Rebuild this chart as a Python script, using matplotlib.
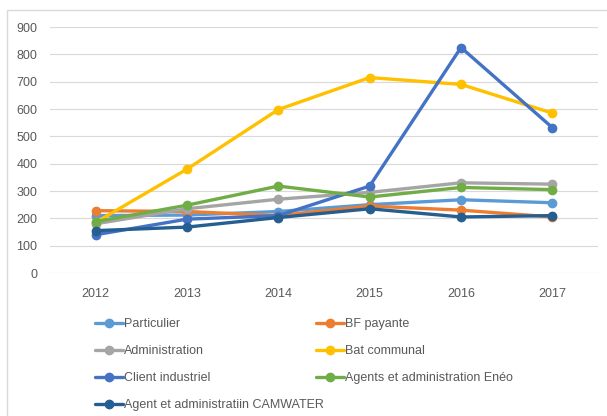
import matplotlib.pyplot as plt
from matplotlib.patches import Rectangle

# Data
years = ['2012', '2013', '2014', '2015', '2016', '2017']
particulier = [210, 212, 225, 250, 268, 257]
bf_payante = [228, 225, 210, 245, 230, 205]
administration = [180, 235, 270, 295, 330, 325]
bat_communal = [185, 380, 598, 715, 690, 585]
client_industriel = [140, 197, 210, 318, 825, 532]
agents_eneo = [188, 248, 318, 278, 313, 305]
agent_camwater = [155, 168, 203, 235, 205, 210]

series = [
    ('Particulier', particulier, '#5B9BD5'),
    ('BF payante', bf_payante, '#ED7D31'),
    ('Administration', administration, '#A5A5A5'),
    ('Bat communal', bat_communal, '#FFC000'),
    ('Client industriel', client_industriel, '#4472C4'),
    ('Agents et administration Enéo', agents_eneo, '#70AD47'),
    ('Agent et administratiin CAMWATER', agent_camwater, '#255E91'),
]

plt.rcParams['font.family'] = ['Liberation Sans', 'DejaVu Sans']
text_col = '#595959'

fig = plt.figure(figsize=(6.07, 4.16), dpi=100)
ax = fig.add_axes([50 / 607, 1 - 273 / 416, 548 / 607, 246 / 416])

x = range(len(years))
handles = {}
for name, vals, col in series:
    h, = ax.plot(x, vals, color=col, lw=2.4, marker='o', ms=6,
                 solid_capstyle='round', label=name)
    handles[name] = h

ax.set_xlim(-0.5, len(years) - 0.5)
ax.set_ylim(0, 900)
ax.set_yticks(range(0, 1000, 100))
ax.set_xticks(list(x))
ax.set_xticklabels(years)
ax.grid(axis='y', color='#D9D9D9', lw=0.8)
ax.set_axisbelow(True)
for s in ax.spines.values():
    s.set_visible(False)
ax.tick_params(length=0, labelsize=9, colors=text_col)
ax.tick_params(axis='x', pad=11)
ax.tick_params(axis='y', pad=9)

# chart area border
fig.patches.append(Rectangle((7 / 607, -0.05), 1.0, 1.05 - 10 / 416,
                             transform=fig.transFigure, fill=False,
                             edgecolor='#D9D9D9', lw=1.0))

names = [s[0] for s in series]
left_col = [names[0], names[2], names[4], names[6]]
right_col = [names[1], names[3], names[5]]

leg_kw = dict(frameon=False, fontsize=9, labelcolor=text_col, handlelength=2.2,
              handletextpad=0.15, labelspacing=1.2, borderpad=0, borderaxespad=0,
              loc='upper left')
leg1 = fig.legend([handles[n] for n in left_col], left_col,
                  bbox_to_anchor=(95 / 607, 1 - 318 / 416), **leg_kw)
leg2 = fig.legend([handles[n] for n in right_col], right_col,
                  bbox_to_anchor=(316 / 607, 1 - 318 / 416), **leg_kw)

fig.savefig('out.png', dpi=100)
